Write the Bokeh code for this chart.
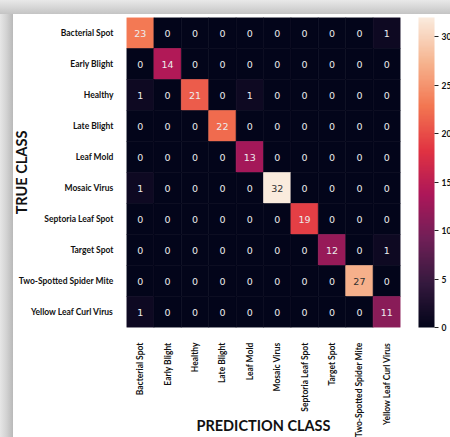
import numpy as np
from bokeh.plotting import figure
from bokeh.models import (ColumnDataSource, LinearColorMapper, ColorBar,
                          FixedTicker, FactorRange)
from bokeh.core.properties import value
from bokeh.embed import file_html
from bokeh.resources import INLINE

# Class names (rows = true class, columns = predicted class)
classes = [
    "Bacterial Spot", "Early Blight", "Healthy", "Late Blight", "Leaf Mold",
    "Mosaic Virus", "Septoria Leaf Spot", "Target Spot",
    "Two-Spotted Spider Mite", "Yellow Leaf Curl Virus",
]

# Confusion-matrix counts, one list per true class
row_bacterial_spot = [23, 0, 0, 0, 0, 0, 0, 0, 0, 1]
row_early_blight   = [0, 14, 0, 0, 0, 0, 0, 0, 0, 0]
row_healthy        = [1, 0, 21, 0, 1, 0, 0, 0, 0, 0]
row_late_blight    = [0, 0, 0, 22, 0, 0, 0, 0, 0, 0]
row_leaf_mold      = [0, 0, 0, 0, 13, 0, 0, 0, 0, 0]
row_mosaic_virus   = [1, 0, 0, 0, 0, 32, 0, 0, 0, 0]
row_septoria       = [0, 0, 0, 0, 0, 0, 19, 0, 0, 0]
row_target_spot    = [0, 0, 0, 0, 0, 0, 0, 12, 0, 1]
row_spider_mite    = [0, 0, 0, 0, 0, 0, 0, 0, 27, 0]
row_yellow_curl    = [1, 0, 0, 0, 0, 0, 0, 0, 0, 11]

counts = [row_bacterial_spot, row_early_blight, row_healthy, row_late_blight,
          row_leaf_mold, row_mosaic_virus, row_septoria, row_target_spot,
          row_spider_mite, row_yellow_curl]

colorbar_ticks = [0, 5, 10, 15, 20, 25, 30]
colorbar_max = 32

# "rocket"-style sequential palette, interpolated from a few anchor colours
anchors = ["#03051a", "#35193e", "#701f57", "#ad1759", "#e13342",
           "#f37651", "#f6b48f", "#faebdd"]
anchor_rgb = np.array([[int(h[i:i + 2], 16) for i in (1, 3, 5)] for h in anchors], float)
anchor_pos = np.linspace(0, 1, len(anchors))
t = np.linspace(0, 1, 256)
rgb = np.stack([np.interp(t, anchor_pos, anchor_rgb[:, k]) for k in range(3)], axis=1)
palette = ["#%02x%02x%02x" % tuple(int(round(c)) for c in row) for row in rgb]


def luminance(c):
    c = np.asarray(c) / 255.0
    c = np.where(c <= 0.03928, c / 12.92, ((c + 0.055) / 1.055) ** 2.4)
    return 0.2126 * c[0] + 0.7152 * c[1] + 0.0722 * c[2]


pred, true, vals, labels, tcolors = [], [], [], [], []
for i, tc in enumerate(classes):
    for j, pc in enumerate(classes):
        v = counts[i][j]
        pred.append(pc)
        true.append(tc)
        vals.append(v)
        labels.append(str(v))
        idx = int(round(min(v / colorbar_max, 1.0) * 255))
        tcolors.append("#303030" if luminance(rgb[idx]) > 0.408 else "#ececec")

src = ColumnDataSource(dict(pred=pred, true=true, count=vals,
                            label=labels, tcolor=tcolors))

mapper = LinearColorMapper(palette=palette, low=0, high=colorbar_max)

p = figure(width=450, height=437,
           x_range=FactorRange(factors=classes),
           y_range=FactorRange(factors=classes[::-1]),
           output_backend="svg", toolbar_location=None,
           min_border_left=126, min_border_right=50,
           min_border_top=17, min_border_bottom=110,
           x_axis_label="PREDICTION CLASS", y_axis_label="TRUE CLASS")

# Light grey drop-shadow band along the top and left edges, white card elsewhere
p.styles = {
    "background": (
        "linear-gradient(to bottom, #e9e9e9 0px, #dadada 6px, #c4c4c4 14px, rgba(255,255,255,0) 14px), "
        "linear-gradient(to right, #e6e6e6 0px, #d4d4d4 6px, #b9b9b9 13px, #ffffff 13px)"
    )
}
p.border_fill_alpha = 0
p.background_fill_color = "#ffffff"
p.outline_line_color = None
p.xgrid.visible = False
p.ygrid.visible = False

p.rect(x="pred", y="true", width=1, height=1, source=src,
       fill_color={"field": "count", "transform": mapper},
       line_color={"field": "count", "transform": mapper}, line_width=0.6)

p.text(x="pred", y="true", text="label", source=src, text_color="tcolor",
       text_align="center", text_baseline="middle",
       text_font=value("DejaVu Sans"), text_font_size="9.5px")

for ax in (p.xaxis, p.yaxis):
    ax.axis_line_color = None
    ax.major_tick_line_color = None
    ax.minor_tick_line_color = None
    ax.major_label_text_font = "Lato"
    ax.major_label_text_font_style = "bold"
    ax.major_label_text_font_size = "8.5px"
    ax.major_label_text_color = "#111111"
    ax.axis_label_text_font = "Lato"
    ax.axis_label_text_font_style = "bold"
    ax.axis_label_text_font_size = "14.5px"
    ax.axis_label_text_color = "#111111"

p.xaxis.major_label_orientation = np.pi / 2
p.xaxis.major_label_standoff = 9
p.yaxis.major_label_standoff = 7
# Pull the titles in over the long tick labels, between the label columns/rows
p.xaxis.axis_label_standoff = -23
p.yaxis.axis_label_standoff = -14

color_bar = ColorBar(color_mapper=mapper, ticker=FixedTicker(ticks=colorbar_ticks),
                     location=(292, 0), width=16, height=310,
                     padding=0, margin=0, bar_line_color=None,
                     border_line_color=None, background_fill_alpha=0,
                     major_tick_in=0, major_tick_out=4,
                     major_tick_line_color="#222222",
                     major_label_text_font="Lato",
                     major_label_text_font_style="bold",
                     major_label_text_font_size="8.5px",
                     major_label_text_color="#111111",
                     label_standoff=3)
p.add_layout(color_bar)

open("out.html", "w").write(file_html(p, INLINE))
